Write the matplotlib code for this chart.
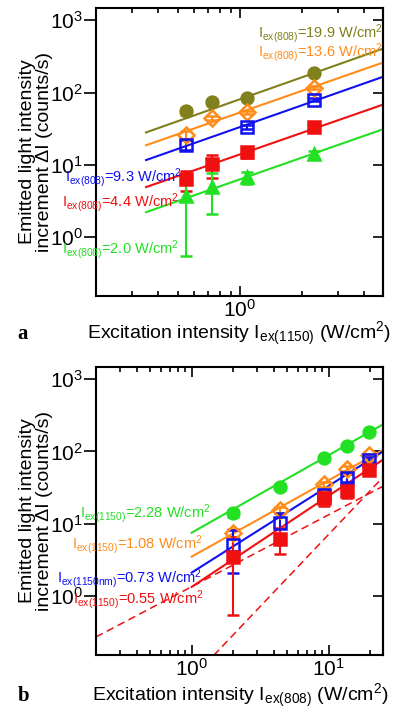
import numpy as np
import matplotlib
matplotlib.use('Agg')
import matplotlib.pyplot as plt
from matplotlib.ticker import NullLocator, NullFormatter

plt.rcParams['font.family'] = ['Liberation Sans', 'DejaVu Sans']
plt.rcParams['mathtext.fontset'] = 'custom'
plt.rcParams['mathtext.rm'] = 'Liberation Sans'
plt.rcParams['mathtext.it'] = 'Liberation Sans:italic'
plt.rcParams['mathtext.bf'] = 'Liberation Sans:bold'
plt.rcParams['mathtext.default'] = 'regular'

OLIVE = '#80801c'
ORANGE = '#ff8c1a'
BLUE = '#1010f0'
RED = '#f01010'
GREEN = '#22e022'

# ---- panel a: signal vs 1150 nm excitation, one series per 808 nm intensity
x_a = [0.55, 0.73, 1.08, 2.28]
a_199 = [55, 73, 83, 188]
a_199_err = [6, 6, 5, 8]
a_136 = [26, 44, 53, 117]
a_136_err = [3, 3, 3, 5]
a_93 = [19, np.nan, 33, 80]
a_93_err = [3, 0, 2, 4]
a_44 = [6.3, 10.2, 14.8, 33]
a_44_err = [2.0, 3.6, 2.5, 3]
a_20 = [3.7, 4.9, 6.7, 14]
a_20_err = [3.15, 2.8, 1.3, 1.5]

# fitted lines, read at both ends
fit_x_a = [0.35, 4.95]
fit_a_199 = [28, 405]
fit_a_136 = [18.6, 260]
fit_a_93 = [11.6, 165]
fit_a_44 = [4.9, 68]
fit_a_20 = [2.2, 31]

labels_a = [r'I$_{ex(808)}$=19.9 W/cm$^{2}$', r'I$_{ex(808)}$=13.6 W/cm$^{2}$',
            r'I$_{ex(808)}$=9.3 W/cm$^{2}$', r'I$_{ex(808)}$=4.4 W/cm$^{2}$',
            r'I$_{ex(808)}$=2.0 W/cm$^{2}$']

# ---- panel b: signal vs 808 nm excitation, one series per 1150 nm intensity
x_b = [2.0, 4.4, 9.3, 13.6, 19.9]
b_228 = [14, 32, 80, 121, 185]
b_228_err = [1.5, 3, 5, 6, 8]
b_108 = [7.5, 15.5, 35, 58, 88]
b_108_err = [1, 1.5, 3, 4, 5]
b_073 = [5.1, 10.2, 25, 43, 77]
b_073_err = [3.0, 3.8, 3, 5, 6]
b_055 = [3.5, 6.2, 23, 28, 56]
b_055_err = [2.95, 2.4, 5.5, 5, 6]

fit_x_b = [1.0, 25]
fit_b_228 = [7.5, 237]
fit_b_108 = [3.5, 105]
fit_b_073 = [2.1, 100]
fit_b_055 = [1.33, 77]

# dashed guide lines (slope 1 and slope 2)
guide1_x = [0.2, 25]
guide1_y = [0.27, 33]
guide2_x = [1.45, 25]
guide2_y = [0.15, 44]

labels_b = [r'I$_{ex(1150)}$=2.28 W/cm$^{2}$', r'I$_{ex(1150)}$=1.08 W/cm$^{2}$',
            r'I$_{ex(1150nm)}$=0.73 W/cm$^{2}$', r'I$_{ex(1150)}$=0.55 W/cm$^{2}$']


def draw_series(ax, x, y, err, color, marker, filled, ms):
    face = color if filled else 'none'
    ax.errorbar(x, y, yerr=err, fmt=marker, color=color, mfc=face, mec=color,
                mew=1.8, ms=ms, capsize=4, elinewidth=1.5, capthick=1.5, zorder=3)


def style_axes(ax, xlim):
    ax.set_xscale('log')
    ax.set_yscale('log')
    ax.set_xlim(*xlim)
    ax.set_ylim(0.152, 1480)
    ax.yaxis.set_minor_locator(NullLocator())
    ax.xaxis.set_minor_formatter(NullFormatter())
    for s in ax.spines.values():
        s.set_linewidth(1.5)
    ax.tick_params(axis='x', which='both', direction='in', top=True, bottom=True,
                   labelsize=15, width=1.2, pad=2)
    ax.tick_params(axis='x', which='major', length=7)
    ax.tick_params(axis='x', which='minor', length=3.5)
    ax.tick_params(axis='y', which='major', direction='out', left=True, right=False,
                   labelsize=15, length=8.5, width=1.2, pad=1)
    sec = ax.secondary_yaxis('right')
    sec.yaxis.set_minor_locator(NullLocator())
    sec.tick_params(direction='in', length=7, width=1.2, labelright=False)
    sec.spines['right'].set_linewidth(1.5)


fig = plt.figure(figsize=(3.96, 7.09), dpi=100)
ax_a = fig.add_axes([0.2424, 0.5825, 0.7247, 0.4062])
ax_b = fig.add_axes([0.2424, 0.0762, 0.7247, 0.4062])

# panel a
for fy, c in [(fit_a_199, OLIVE), (fit_a_136, ORANGE), (fit_a_93, BLUE),
              (fit_a_44, RED), (fit_a_20, GREEN)]:
    ax_a.plot(fit_x_a, fy, color=c, lw=1.5, zorder=2)
draw_series(ax_a, x_a, a_199, a_199_err, OLIVE, 'o', True, 8.5)
draw_series(ax_a, x_a, a_136, a_136_err, ORANGE, 'D', False, 8.5)
draw_series(ax_a, x_a, a_93, a_93_err, BLUE, 's', False, 8)
draw_series(ax_a, x_a, a_44, a_44_err, RED, 's', True, 8)
draw_series(ax_a, x_a, a_20, a_20_err, GREEN, '^', True, 8.5)
style_axes(ax_a, (0.2, 4.95))

pos_a = [(1.0, 0.913, 'right'), (1.0, 0.847, 'right'), (-0.108, 0.413, 'left'),
         (-0.118, 0.326, 'left'), (-0.118, 0.160, 'left')]
for lab, (px, py, ha), c in zip(labels_a, pos_a, [OLIVE, ORANGE, BLUE, RED, GREEN]):
    ax_a.text(px, py, lab, transform=ax_a.transAxes, color=c, fontsize=10.5,
              ha=ha, va='center', clip_on=False, zorder=4)

# panel b
for fy, c in [(fit_b_228, GREEN), (fit_b_108, ORANGE), (fit_b_073, BLUE), (fit_b_055, RED)]:
    ax_b.plot(fit_x_b, fy, color=c, lw=1.5, zorder=2)
ax_b.plot(guide1_x, guide1_y, color=RED, lw=1.1, ls=(0, (5, 3)), zorder=2)
ax_b.plot(guide2_x, guide2_y, color=RED, lw=1.1, ls=(0, (5, 3)), zorder=2)
draw_series(ax_b, x_b, b_228, b_228_err, GREEN, 'o', True, 8.5)
draw_series(ax_b, x_b, b_108, b_108_err, ORANGE, 'D', False, 8.5)
draw_series(ax_b, x_b, b_073, b_073_err, BLUE, 's', False, 8)
draw_series(ax_b, x_b, b_055, b_055_err, RED, 's', True, 8)
style_axes(ax_b, (0.2, 25))

pos_b = [(-0.056, 0.49), (-0.084, 0.382), (-0.136, 0.267), (-0.08, 0.191)]
for lab, (px, py), c in zip(labels_b, pos_b, [GREEN, ORANGE, BLUE, RED]):
    ax_b.text(px, py, lab, transform=ax_b.transAxes, color=c, fontsize=10.5,
              ha='left', va='center', clip_on=False, zorder=4)

# axis titles and panel letters
ylab = 'Emitted light intensity\nincrement \u0394I (counts/s)'
fig.text(0.091, 0.7856, ylab, rotation=90, ha='center', va='center',
         fontsize=14, linespacing=1.05)
fig.text(0.091, 0.2793, ylab, rotation=90, ha='center', va='center',
         fontsize=14, linespacing=1.05)
fig.text(0.605, 0.529, r'Excitation intensity I$_{ex(1150)}$ (W/cm$^{2}$)',
         ha='center', va='center', fontsize=14)
fig.text(0.608, 0.019, r'Excitation intensity I$_{ex(808)}$ (W/cm$^{2}$)',
         ha='center', va='center', fontsize=14)
fig.text(0.045, 0.529, 'a', family='Liberation Serif', weight='bold',
         fontsize=15, ha='left', va='center')
fig.text(0.045, 0.019, 'b', family='Liberation Serif', weight='bold',
         fontsize=15, ha='left', va='center')

fig.savefig('out.png', dpi=100)
